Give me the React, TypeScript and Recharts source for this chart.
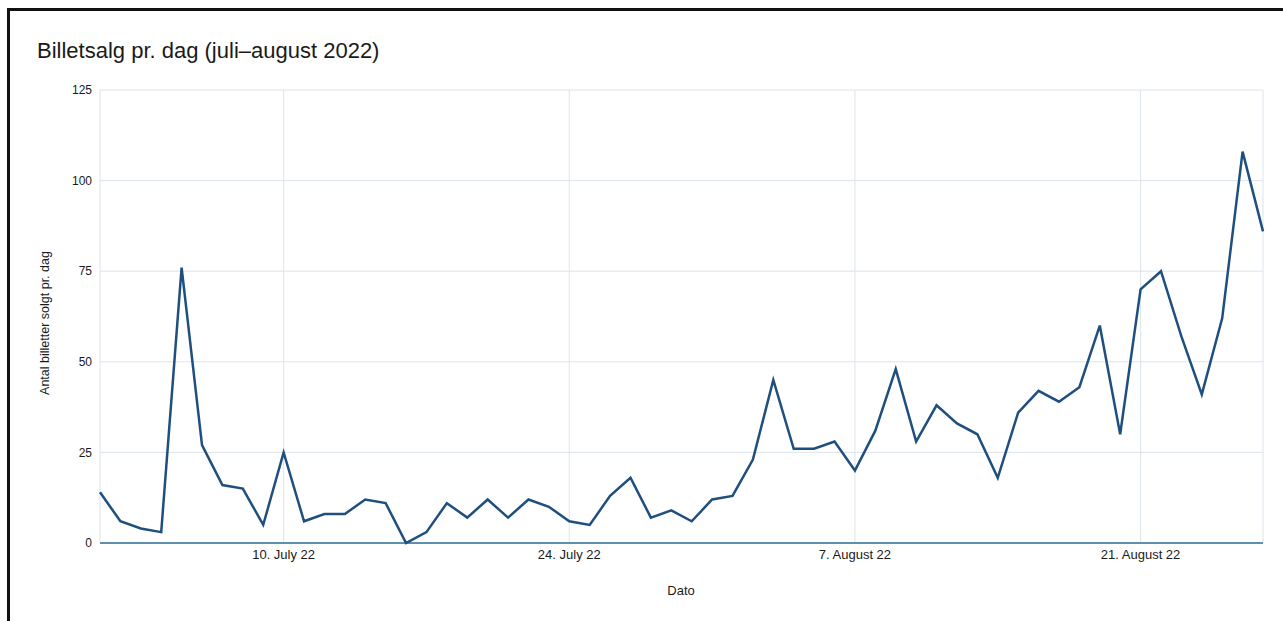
import React from "react";
import { LineChart, Line, XAxis, YAxis, CartesianGrid, ReferenceLine } from "recharts";

// Daily ticket sales, 1 July – 27 August 2022 (index 0 = 1 July)
const SALES: number[] = [
  14, 6, 4, 3, 76, 27, 16, 15, 5, 25,
  6, 8, 8, 12, 11, 0, 3, 11, 7, 12,
  7, 12, 10, 6, 5, 13, 18, 7, 9, 6,
  12, 13, 23, 45, 26, 26, 28, 20, 31, 48,
  28, 38, 33, 30, 18, 36, 42, 39, 43, 60,
  30, 70, 75, 57, 41, 62, 108, 86,
];

const X_TICKS = [9, 23, 37, 51];
const X_TICK_LABELS = ["10. July 22", "24. July 22", "7. August 22", "21. August 22"];
const Y_TICKS = [0, 25, 50, 75, 100, 125];

const data = SALES.map((v, i) => ({ day: i, sold: v }));

const FONT = "'Liberation Sans', Arial, sans-serif";

export default function App() {
  return (
    <div
      style={{
        position: "fixed",
        left: 0,
        top: 0,
        width: 1283,
        height: 621,
        overflow: "hidden",
        background: "#fff",
        fontFamily: FONT,
      }}
    >
      <div
        style={{
          position: "absolute",
          left: 7,
          top: 8,
          width: 1400,
          height: 700,
          borderLeft: "3px solid #111",
          borderTop: "3px solid #111",
        }}
      />
      <div
        style={{
          position: "absolute",
          left: 37,
          top: 38,
          fontSize: 22,
          color: "#1a1a1a",
          whiteSpace: "nowrap",
        }}
      >
        Billetsalg pr. dag (juli–august 2022)
      </div>
      <div
        style={{
          position: "absolute",
          left: 45,
          top: 323,
          transform: "translate(-50%, -50%) rotate(-90deg)",
          fontSize: 12.5,
          color: "#1a1a1a",
          whiteSpace: "nowrap",
        }}
      >
        Antal billetter solgt pr. dag
      </div>
      <div
        style={{
          position: "absolute",
          left: 681,
          top: 590,
          transform: "translate(-50%, -50%)",
          fontSize: 13,
          color: "#1a1a1a",
        }}
      >
        Dato
      </div>
      <div style={{ position: "absolute", left: 0, top: 0 }}>
        <LineChart
          width={1283}
          height={621}
          data={data}
          margin={{ top: 90, right: 20, bottom: 48, left: 40 }}
        >
          <CartesianGrid stroke="#dce4ec" strokeWidth={1} />
          <XAxis
            dataKey="day"
            type="number"
            domain={[0, SALES.length - 1]}
            ticks={X_TICKS}
            tickFormatter={(v: number) => X_TICK_LABELS[X_TICKS.indexOf(v)] ?? ""}
            axisLine={false}
            tickLine={false}
            tickSize={6}
            tickMargin={1}
            height={30}
            interval={0}
            tick={{ fill: "#1a1a1a", fontSize: 13, fontFamily: FONT }}
          />
          <YAxis
            type="number"
            domain={[0, 125]}
            ticks={Y_TICKS}
            axisLine={false}
            tickLine={false}
            tickSize={6}
            tickMargin={2}
            width={60}
            interval={0}
            tick={{ fill: "#1a1a1a", fontSize: 12, fontFamily: FONT }}
          />
          <ReferenceLine y={0} stroke="#5f8fae" strokeWidth={2} />
          <Line
            type="linear"
            dataKey="sold"
            stroke="#1f4f7e"
            strokeWidth={2.5}
            dot={false}
            activeDot={false}
            isAnimationActive={false}
          />
        </LineChart>
      </div>
    </div>
  );
}
